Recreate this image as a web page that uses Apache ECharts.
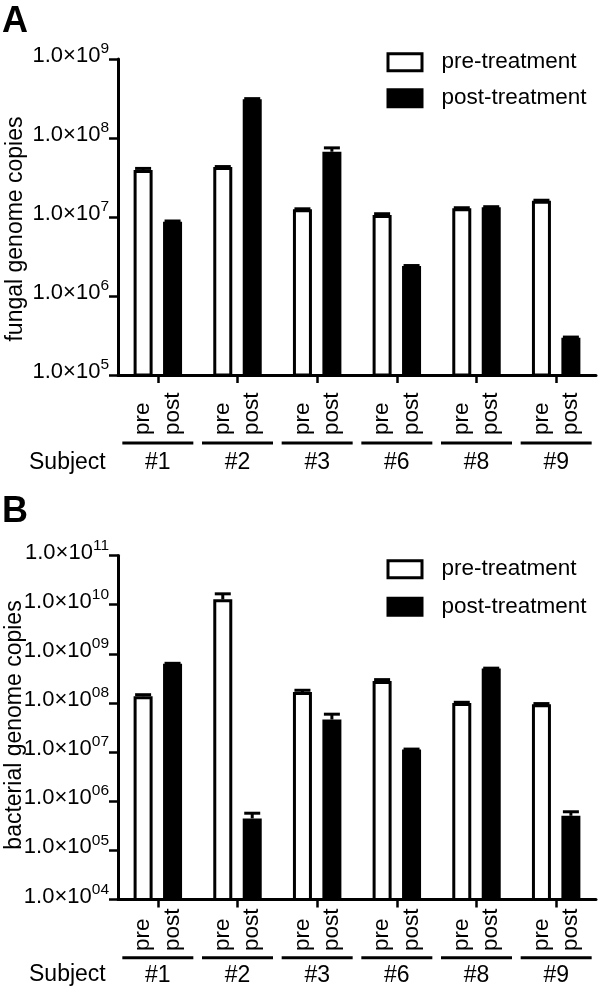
<!DOCTYPE html>
<html>
<head>
<meta charset="utf-8">
<script src="https://cdn.jsdelivr.net/npm/echarts@6/dist/echarts.min.js"></script>
<style>
html,body{margin:0;padding:0;background:#fff;}
#chart{width:600px;height:988px;}
</style>
</head>
<body>
<div id="chart"></div>
<script>
// ---------- data ----------
const subjects = ['#1', '#2', '#3', '#6', '#8', '#9'];
const stages = ['pre', 'post'];
const seriesNames = ['pre-treatment', 'post-treatment'];

const fungalPre     = [3.94e7, 4.3e7, 1.25e7, 1.06e7, 1.29e7, 1.61e7];
const fungalPreErr  = [4.12e7, 4.35e7, 1.27e7, 1.1e7, 1.31e7, 1.63e7];
const fungalPost    = [8.7e6, 3.09e8, 6.7e7, 2.4e6, 1.33e7, 2.97e5];
const fungalPostErr = [8.9e6, 3.15e8, 7.5e7, 2.43e6, 1.35e7, 3.02e5];

const bactPre     = [1.37e8, 1.28e10, 1.67e8, 2.8e8, 1.0e8, 9.4e7];
const bactPreErr  = [1.47e8, 1.66e10, 1.81e8, 2.98e8, 1.03e8, 9.7e7];
const bactPost    = [6.3e8, 4.47e5, 4.6e7, 1.13e7, 5.0e8, 5.05e5];
const bactPostErr = [6.4e8, 5.7e5, 5.9e7, 1.15e7, 5.1e8, 6.1e5];

const fungalRange = [1e5, 1e9];
const bactRange = [1e4, 1e11];

// ---------- styles ----------
const FONT = '"Liberation Sans", Arial, Helvetica, sans-serif';
const BAR_W = 19;
const BAR_GAP = 0.55;
const OFFSET = BAR_W * (1 + BAR_GAP) / 2;
const CAP = 16;

const preStyle = { color: '#fff', borderColor: '#000', borderWidth: 3 };
const postStyle = { color: '#000', borderColor: '#000', borderWidth: 3 };

function errData(vals, errs) {
  return vals.map((v, i) => [i, v, errs[i]]);
}
function errRender(sign) {
  return function (params, api) {
    const i = api.value(0), v = api.value(1), e = api.value(2);
    const p0 = api.coord([i, v]);
    const p1 = api.coord([i, e]);
    const x = p0[0] + sign * OFFSET;
    return {
      type: 'group',
      children: [
        { type: 'line', shape: { x1: x, y1: p0[1], x2: x, y2: p1[1] }, style: { stroke: '#000', lineWidth: 3 } },
        { type: 'line', shape: { x1: x - CAP / 2, y1: p1[1], x2: x + CAP / 2, y2: p1[1] }, style: { stroke: '#000', lineWidth: 3 } }
      ]
    };
  };
}

function yAxisCfg(gridIndex, range, pad) {
  return {
    type: 'log', logBase: 10, gridIndex: gridIndex,
    min: range[0], max: range[1],
    axisLine: { show: true, lineStyle: { color: '#000', width: 3 } },
    axisTick: { show: true, length: 9, lineStyle: { color: '#000', width: 2.5 } },
    splitLine: { show: false },
    minorTick: { show: false },
    axisLabel: {
      margin: 9,
      fontSize: 22, fontFamily: FONT, color: '#000',
      padding: [0, 0, 10, 0],
      formatter: function (v) {
        let e = String(Math.round(Math.log10(v)));
        if (pad && e.length < 2) e = '0' + e;
        return '{b|1.0×10}{s|' + e + '}';
      },
      rich: {
        b: { fontSize: 22, fontFamily: FONT, color: '#000', lineHeight: 26, verticalAlign: 'bottom' },
        s: { fontSize: 15.5, fontFamily: FONT, color: '#000', verticalAlign: 'top' }
      }
    }
  };
}

function stageAxis(gridIndex, boxW) {
  return {
    type: 'category', gridIndex: gridIndex, data: subjects, position: 'bottom',
    axisLine: { show: true, onZero: false, lineStyle: { color: '#000', width: 3 } },
    axisTick: { show: true, alignWithLabel: true, length: 8, lineStyle: { color: '#000', width: 2.5 } },
    splitLine: { show: false },
    axisLabel: {
      interval: 0, rotate: 90, align: 'right', verticalAlign: 'middle',
      margin: 5, width: boxW, overflow: 'none',
      fontSize: 22.5, fontFamily: FONT, color: '#000',
      formatter: function () { return stages.map(s => '{p|' + s + '}').join('\n'); },
      rich: { p: { fontSize: 22.5, fontFamily: FONT, color: '#000', align: 'left', lineHeight: 29.5 } }
    }
  };
}

function nameAxis(gridIndex, margin, lh) {
  return {
    type: 'category', gridIndex: gridIndex, data: subjects, position: 'bottom',
    axisLine: { show: false, onZero: false }, axisTick: { show: false }, splitLine: { show: false },
    axisLabel: {
      interval: 0, margin: margin,
      fontSize: 23, fontFamily: FONT, color: '#000',
      formatter: function (v) { return '{l|}\n{n|' + v + '}'; },
      rich: {
        l: { width: 71, height: 3, lineHeight: 3, backgroundColor: '#000' },
        n: { fontSize: 23, fontFamily: FONT, color: '#000', lineHeight: lh }
      }
    }
  };
}

function legendCfg(top, gap) {
  return {
    orient: 'vertical', left: 386.5, top: top, padding: 0,
    itemWidth: 34, itemHeight: 17, itemGap: gap, icon: 'rect', selectedMode: false,
    textStyle: { fontSize: 22.5, fontFamily: FONT, color: '#000', padding: [0, 0, 0, 14.5] },
    data: [
      { name: seriesNames[0], itemStyle: preStyle },
      { name: seriesNames[1], itemStyle: postStyle }
    ]
  };
}

function barSeries(name, data, style, xi, yi) {
  return {
    type: 'bar', name: name, data: data, xAxisIndex: xi, yAxisIndex: yi,
    barWidth: BAR_W, barGap: (BAR_GAP * 100) + '%', itemStyle: style,
    animation: false, silent: true
  };
}
function errSeries(name, vals, errs, sign, xi, yi) {
  return {
    type: 'custom', name: name, xAxisIndex: xi, yAxisIndex: yi,
    data: errData(vals, errs), renderItem: errRender(sign), z: 5,
    animation: false, silent: true, encode: { x: 0, y: 1 }
  };
}

const chart = echarts.init(document.getElementById('chart'), null, { renderer: 'canvas' });
chart.setOption({
  backgroundColor: '#fff',
  animation: false,
  grid: [
    { left: 118, top: 59, width: 478, height: 316 },
    { left: 118, top: 555.5, width: 478, height: 344 }
  ],
  xAxis: [
    stageAxis(0, 55),
    nameAxis(0, 66.5, 37),
    stageAxis(1, 46.5),
    nameAxis(1, 56.7, 32)
  ],
  yAxis: [
    yAxisCfg(0, fungalRange, false),
    yAxisCfg(1, bactRange, true)
  ],
  legend: [legendCfg(50.75, 13), legendCfg(557.75, 14.5)],
  graphic: [
    { type: 'text', x: 2, y: 4, style: { text: 'A', fontSize: 36, fontWeight: 'bold', fontFamily: FONT, fill: '#000' } },
    { type: 'text', x: 2, y: 494, style: { text: 'B', fontSize: 36, fontWeight: 'bold', fontFamily: FONT, fill: '#000' } },
    { type: 'text', x: 16, y: 229, rotation: Math.PI / 2, style: { text: 'fungal genome copies', fontSize: 23, fontFamily: FONT, fill: '#000', align: 'center', verticalAlign: 'middle' } },
    { type: 'text', x: 15, y: 725, rotation: Math.PI / 2, style: { text: 'bacterial genome copies', fontSize: 23, fontFamily: FONT, fill: '#000', align: 'center', verticalAlign: 'middle' } },
    { type: 'text', x: 29, y: 463, style: { text: 'Subject', fontSize: 23, fontFamily: FONT, fill: '#000', verticalAlign: 'middle' } },
    { type: 'text', x: 29, y: 975, style: { text: 'Subject', fontSize: 23, fontFamily: FONT, fill: '#000', verticalAlign: 'middle' } }
  ],
  series: [
    barSeries(seriesNames[0], fungalPre, preStyle, 0, 0),
    barSeries(seriesNames[1], fungalPost, postStyle, 0, 0),
    errSeries(seriesNames[0], fungalPre, fungalPreErr, -1, 0, 0),
    errSeries(seriesNames[1], fungalPost, fungalPostErr, 1, 0, 0),
    barSeries(seriesNames[0], bactPre, preStyle, 2, 1),
    barSeries(seriesNames[1], bactPost, postStyle, 2, 1),
    errSeries(seriesNames[0], bactPre, bactPreErr, -1, 2, 1),
    errSeries(seriesNames[1], bactPost, bactPostErr, 1, 2, 1)
  ]
});
</script>
</body>
</html>
